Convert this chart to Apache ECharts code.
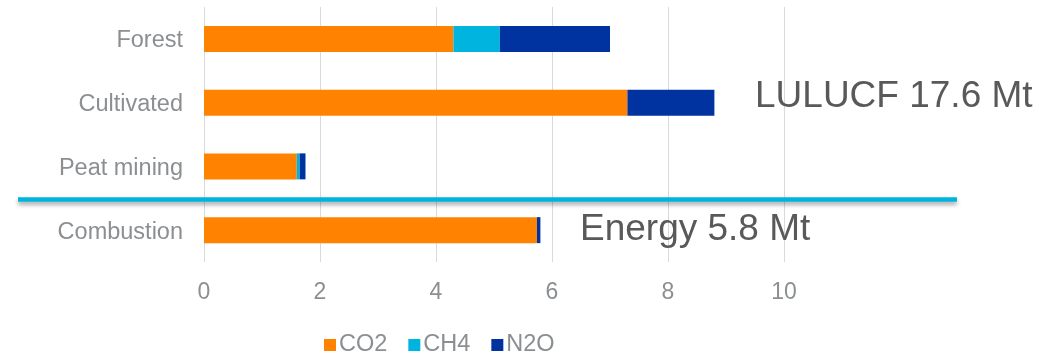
<!DOCTYPE html>
<html>
<head>
<meta charset="utf-8">
<script src="https://cdn.jsdelivr.net/npm/echarts@6/dist/echarts.min.js"></script>
<style>html,body{margin:0;padding:0;background:#fff}#c{width:1048px;height:354px}</style>
</head>
<body>
<div id="c"></div>
<script>
const categories = ['Forest', 'Cultivated', 'Peat mining', 'Combustion'];
const co2 = [4.3, 7.3, 1.6, 5.74];
const ch4 = [0.8, 0, 0.05, 0];
const n2o = [1.9, 1.5, 0.1, 0.06];
const xTicks = [0, 2, 4, 6, 8, 10];
const seriesNames = ['CO2', 'CH4', 'N2O'];
const colors = ['#FF8300', '#00B4E0', '#0033A0'];
const annotations = ['LULUCF 17.6 Mt', 'Energy 5.8 Mt'];

const chart = echarts.init(document.getElementById('c'));
const font = 'Liberation Sans, Arial, sans-serif';
const mk = (name, data, i) => ({
  name, type: 'bar', stack: 'total', data,
  barWidth: 26,
  itemStyle: { color: colors[i] }
});
chart.setOption({
  animation: false,
  textStyle: { fontFamily: font },
  grid: { left: 204, right: 264, top: 7, bottom: 92, containLabel: false },
  xAxis: {
    type: 'value', min: xTicks[0], max: xTicks[xTicks.length - 1], interval: 2,
    axisLine: { show: false }, axisTick: { show: false },
    splitLine: { lineStyle: { color: '#d9d9d9', width: 1 } },
    axisLabel: { color: '#8c8f91', fontSize: 23, margin: 19, fontFamily: font }
  },
  yAxis: {
    type: 'category', data: categories, inverse: true,
    axisLine: { show: false }, axisTick: { show: false },
    axisLabel: { color: '#8c8f91', fontSize: 23.5, margin: 21, fontFamily: font, lineHeight: 28, verticalAlign: 'top', padding: [-12, 0, 0, 0] }
  },
  legend: {
    data: seriesNames, left: 319, top: 328,
    icon: 'rect', itemWidth: 12, itemHeight: 12, itemGap: 21,
    textStyle: { color: '#8c8f91', fontSize: 23.5, fontFamily: font, padding: [0, 0, 0, -2] }
  },
  series: [mk(seriesNames[0], co2, 0), mk(seriesNames[1], ch4, 1), mk(seriesNames[2], n2o, 2)],
  graphic: [
    { type: 'line', shape: { x1: 18, y1: 199.5, x2: 957, y2: 199.5 },
      style: { stroke: '#00B4E0', lineWidth: 4.5, shadowBlur: 4, shadowOffsetY: 3, shadowColor: 'rgba(0,0,0,0.35)' }, z: 10 },
    { type: 'text', left: 755, top: 78,
      style: { text: annotations[0], fill: '#595959', font: '37px ' + font }, z: 10 },
    { type: 'text', left: 580, top: 211,
      style: { text: annotations[1], fill: '#595959', font: '37px ' + font }, z: 10 }
  ]
});
</script>
</body>
</html>
